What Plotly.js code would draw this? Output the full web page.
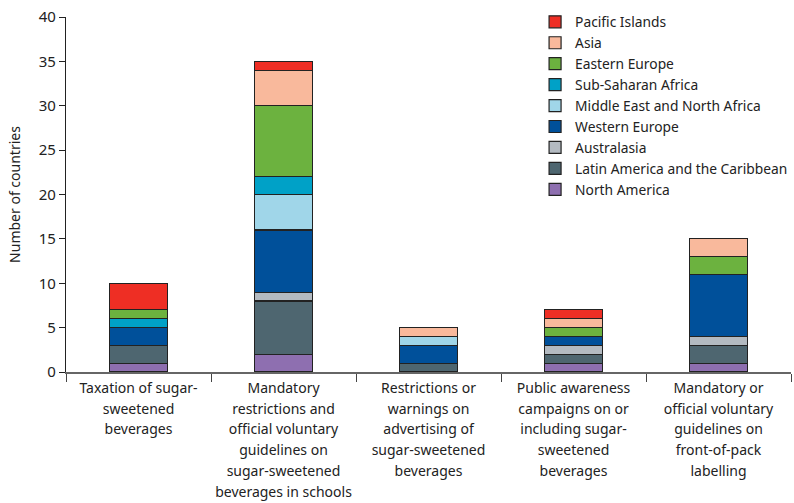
<!DOCTYPE html>
<html>
<head>
<meta charset="utf-8">
<script src="https://cdn.plot.ly/plotly-3.0.1.min.js"></script>
<style>html,body{margin:0;padding:0;background:#fff;}#chart{width:794px;height:503px;}</style>
</head>
<body>
<div id="chart"></div>
<script>
const categories = [
  "Taxation of sugar-<br>sweetened<br>beverages",
  "Mandatory<br>restrictions and<br>official voluntary<br>guidelines on<br>sugar-sweetened<br>beverages in schools",
  "Restrictions or<br>warnings on<br>advertising of<br>sugar-sweetened<br>beverages",
  "Public awareness<br>campaigns on or<br>including sugar-<br>sweetened<br>beverages",
  "Mandatory or<br>official voluntary<br>guidelines on<br>front-of-pack<br>labelling"
];
const seriesNames = ["North America","Latin America and the Caribbean","Australasia","Western Europe","Middle East and North Africa","Sub-Saharan Africa","Eastern Europe","Asia","Pacific Islands"];
const northAmerica   = [1, 2, 0, 1, 1];
const latinAmerica   = [2, 6, 1, 1, 2];
const australasia    = [0, 1, 0, 1, 1];
const westernEurope  = [2, 7, 2, 1, 7];
const mena           = [0, 4, 1, 0, 0];
const subSaharan     = [1, 2, 0, 0, 0];
const easternEurope  = [1, 8, 0, 1, 2];
const asia           = [0, 4, 1, 1, 2];
const pacificIslands = [3, 1, 0, 1, 0];
const yTicks = [0, 5, 10, 15, 20, 25, 30, 35, 40];
const seriesValues = [northAmerica, latinAmerica, australasia, westernEurope, mena, subSaharan, easternEurope, asia, pacificIslands];
const colors = ["#8E6FB0","#4E6670","#B3BAC1","#00509A","#A0D6E9","#00A1C7","#6CB23F","#F9B99C","#EE2E24"];

const traces = seriesNames.map((name, i) => ({
  type: "bar",
  name: name,
  x: categories,
  y: seriesValues[i],
  width: 0.4,
  marker: {color: colors[i], line: {color: "#222", width: 1.2}},
  hoverinfo: "name+y"
}));

// wrap each line so that text is 14px while line spacing follows 16px base font
const tickText = categories.map(c => c.split("<br>").map(l => '<span style="font-size:14px">' + l + '</span>').join("<br>"));

const font = "Noto Sans, Open Sans, sans-serif";
const layout = {
  width: 794, height: 503,
  margin: {l: 66, r: 3, t: 17, b: 131, autoexpand: false},
  barmode: "stack",
  paper_bgcolor: "#fff", plot_bgcolor: "#fff",
  font: {family: font, color: "#222", size: 14},
  showlegend: true,
  legend: {
    x: 0.647, y: 1.03, xanchor: "left", yanchor: "top",
    traceorder: "reversed",
    font: {family: font, size: 13.8, color: "#222"},
    bgcolor: "rgba(0,0,0,0)",
    tracegroupgap: 0
  },
  xaxis: {
    type: "category",
    showline: true, linecolor: "#666", linewidth: 1.6,
    ticks: "outside", tickson: "boundaries", ticklen: 8, tickcolor: "#444",
    tickvals: categories, ticktext: tickText,
    tickfont: {family: font, size: 16, color: "#222"},
    showgrid: false, zeroline: false,
    range: [-0.5, 4.5],
    tickangle: 0,
    automargin: false
  },
  yaxis: {
    range: [0, 40],
    tickvals: yTicks,
    showline: true, linecolor: "#222", linewidth: 1.2,
    ticks: "outside", ticklen: 6, tickcolor: "#222",
    tickfont: {family: font, size: 15, color: "#222"},
    showgrid: false, zeroline: false,
    title: {text: "Number of countries", font: {family: font, size: 14, color: "#222"}, standoff: 14},
    automargin: false
  }
};

Plotly.newPlot("chart", traces, layout, {staticPlot: true, displayModeBar: false});
</script>
</body>
</html>
